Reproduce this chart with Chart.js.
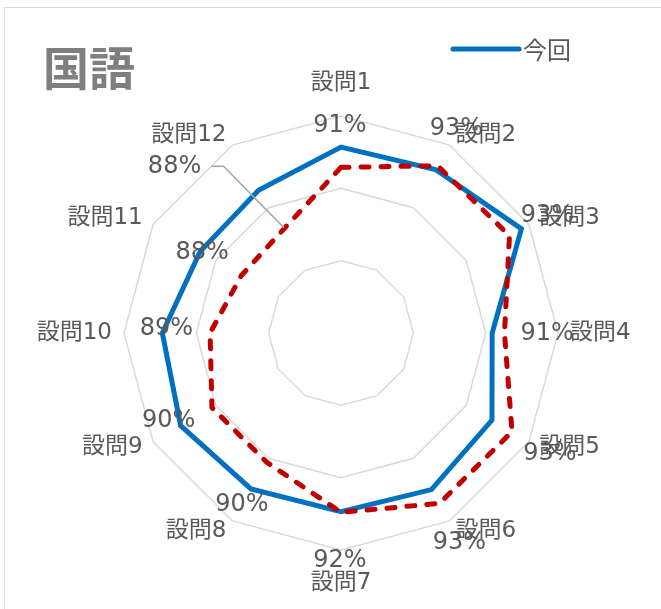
<!DOCTYPE html>
<html>
<head>
<meta charset="utf-8">
<script src="https://cdn.jsdelivr.net/npm/chart.js@4.4.1/dist/chart.umd.min.js"></script>
<style>
  body { margin: 0; background: #ffffff; overflow: hidden; }
  #wrap { position: relative; width: 661px; height: 609px; }
  #frame { position: absolute; left: 4px; top: 7px; width: 700px; height: 700px;
           border: 1px solid #d9d9d9; box-sizing: border-box; }
  #radar_chart { position: absolute; left: 0; top: 0; }
</style>
</head>
<body>
<div id="wrap">
  <div id="frame"></div>
  <canvas id="radar_chart" width="661" height="609"></canvas>
</div>
<script>
/*
    国語 radar chart - 今回 vs previous
*/

var categories = ['設問1', '設問2', '設問3', '設問4', '設問5', '設問6',
                  '設問7', '設問8', '設問9', '設問10', '設問11', '設問12'];

// plotted values (grid rings at 1, 2, 3)
var current_values  = [2.57, 2.61, 2.88, 2.09, 2.41, 2.50, 2.47, 2.49, 2.56, 2.47, 2.25, 2.28];
var previous_values = [2.29, 2.67, 2.69, 2.26, 2.73, 2.72, 2.48, 2.06, 2.06, 1.81, 1.59, 1.63];

// data labels shown on the 今回 series
var current_labels = ['91%', '93%', '93%', '91%', '93%', '93%',
                      '92%', '90%', '90%', '89%', '88%', '88%'];

var series_names = ['今回', '前回'];

// where each data label sits, relative to its point (px)
var label_dx = [-1, 21, 26, 55, 58, 28, -1, -9, -12, 4, 2, -84];
var label_dy = [-21, -41, -13, 1, 34, 53, 49, 16, -5, -4, 1, -23];

var TEXT = '#595959';
var FONT = "'DejaVu Sans', 'Noto Sans CJK JP', sans-serif";
var CJK_FONT = "'Noto Sans CJK JP', sans-serif";


// title, legend, category and value labels
var decorPlugin = {
    id: 'decor',
    afterDatasetsDraw: function(chart) {
        var c = chart.ctx;
        var r = chart.scales.r;
        c.save();

        // title
        c.fillStyle = '#7f7f7f';
        c.font = 'bold 46px ' + CJK_FONT;
        c.textAlign = 'left';
        c.textBaseline = 'middle';
        c.fillText('国語', 43, 68);

        // legend (first series only)
        c.strokeStyle = chart.data.datasets[0].borderColor;
        c.lineWidth = 5;
        c.lineCap = 'round';
        c.beginPath();
        c.moveTo(453, 49);
        c.lineTo(519, 49);
        c.stroke();
        c.fillStyle = TEXT;
        c.font = '24px ' + CJK_FONT;
        c.fillText(series_names[0], 523, 50);

        // category labels
        c.font = '23px ' + FONT;
        for (var i = 0; i < categories.length; i++) {
            var top_bottom = (i === 0 || i === 6);
            var p = r.getPointPosition(i, r.drawingArea + (top_bottom ? 33 : 12));
            c.textAlign = top_bottom ? 'center' : (i < 6 ? 'left' : 'right');
            c.textBaseline = 'middle';
            c.fillText(categories[i], p.x, p.y);
        }

        // leader line for the moved 設問12 label
        var pts = chart.getDatasetMeta(0).data;
        var red = chart.getDatasetMeta(1).data;
        var k = 11;
        var lx = pts[k].x + label_dx[k], ly = pts[k].y + label_dy[k];
        c.strokeStyle = '#a6a6a6';
        c.lineWidth = 1.5;
        c.lineCap = 'butt';
        c.beginPath();
        c.moveTo(lx + 37, ly - 1);
        c.lineTo(lx + 49, ly - 1);
        c.lineTo(red[k].x + 2, red[k].y - 3);
        c.stroke();

        // value labels
        c.font = '24px ' + FONT;
        c.textAlign = 'center';
        c.textBaseline = 'middle';
        c.fillStyle = TEXT;
        for (var j = 0; j < pts.length; j++) {
            c.fillText(current_labels[j], pts[j].x + label_dx[j], pts[j].y + label_dy[j]);
        }

        c.restore();
    }
};


var ctx = document.getElementById('radar_chart').getContext('2d');

var radar_chart = new Chart(ctx, {
    type: 'radar',

    data: {
        labels: categories,
        datasets: [{
            label: series_names[0],
            data: current_values,
            borderColor: '#0070C0',
            backgroundColor: 'rgba(0,0,0,0)',
            borderWidth: 5,
            borderJoinStyle: 'miter',
            pointRadius: 0,
            fill: false,
            order: 2,
        }, {
            label: series_names[1],
            data: previous_values,
            borderColor: '#C00000',
            backgroundColor: 'rgba(0,0,0,0)',
            borderWidth: 5,
            borderDash: [8, 12],
            borderCapStyle: 'round',
            pointRadius: 0,
            fill: false,
            order: 1,
        }],
    },

    options: {
        responsive: false,
        animation: false,
        devicePixelRatio: 1,
        layout: {
            padding: { left: 124, right: 103, top: 116, bottom: 59 },},

        scales: {
            r: {
                min: 0,
                max: 3,
                ticks: { display: false, stepSize: 1,},
                grid: { color: '#d9d9d9', lineWidth: 1.5,},
                angleLines: { display: false,},
                pointLabels: { display: false,},},},

        plugins: {
            legend: { display: false,},
            tooltip: { enabled: false,},
            title: { display: false,},},
    },

    plugins: [decorPlugin],
});
</script>
</body>
</html>
